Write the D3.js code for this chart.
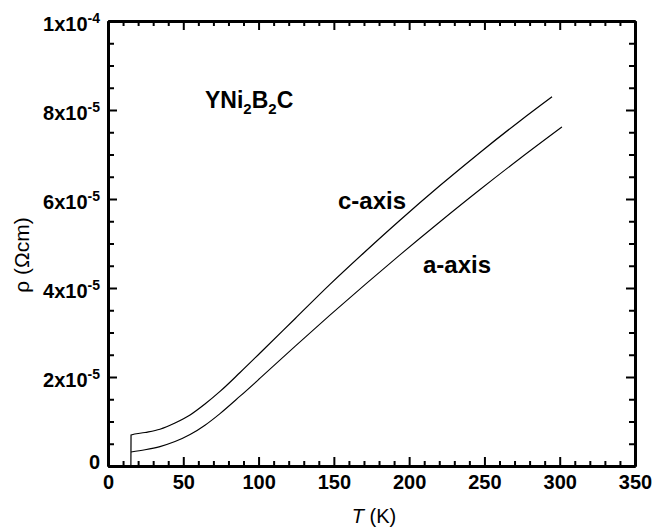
<!DOCTYPE html>
<html>
<head>
<meta charset="utf-8">
<script src="https://cdn.jsdelivr.net/npm/d3@7"></script>
<style>
  html, body { margin: 0; padding: 0; background: #fff; }
  svg { display: block; font-family: "Liberation Sans", Arial, Helvetica, sans-serif; }
</style>
</head>
<body>
<svg id="chart" width="653" height="531"></svg>
<script>
// Resistivity of YNi2B2C single crystal vs temperature (values in µΩcm)
const cAxisT   = [15.2, 15.3, 24.6, 34.5, 44.5, 54.5, 64.4, 74.4, 87.7, 101, 124.2, 147.4, 170.7, 193.9, 220.5, 247.1, 273.6, 294.9];
const cAxisRho = [0, 6.97, 7.53, 8.27, 9.66, 11.46, 13.93, 16.76, 21.01, 25.39, 33.10, 40.81, 48.15, 55.23, 63.02, 70.47, 77.55, 82.98];

const aAxisT   = [15.3, 24.6, 34.5, 44.5, 54.5, 64.4, 74.4, 87.7, 101, 124.2, 147.4, 170.7, 193.9, 220.5, 247.1, 273.6, 301.5];
const aAxisRho = [3.15, 3.64, 4.36, 5.48, 7.06, 9.17, 11.78, 15.69, 19.73, 26.90, 33.89, 40.76, 47.44, 54.89, 62.13, 69.10, 76.19];

const xMajorTicks = [0, 50, 100, 150, 200, 250, 300, 350];
const xMinorTicks = d3.range(0, 351, 10).filter(v => v % 50 !== 0);
const yMajorTicks = [0, 2e-5, 4e-5, 6e-5, 8e-5, 1e-4];
const yMinorTicks = d3.range(0, 21).map(i => i * 5e-6).filter((v, i) => i % 4 !== 0);
const yTickMantissa = ["0", "2", "4", "6", "8", "1"];
const yTickExponent = [null, "-5", "-5", "-5", "-5", "-4"];

const W = 653, H = 531;
const margin = { top: 21, right: 18, bottom: 65, left: 108 };

const svg = d3.select("#chart");
const x = d3.scaleLinear().domain([0, 350]).range([margin.left, W - margin.right]);
const y = d3.scaleLinear().domain([0, 1e-4]).range([H - margin.bottom, margin.top]);

const toPoints = (T, rho) => T.map((t, i) => [t, rho[i] * 1e-6]);
const line = d3.line().x(d => x(d[0])).y(d => y(d[1])).curve(d3.curveMonotoneX);

// curves
svg.append("path").datum(toPoints(cAxisT, cAxisRho))
  .attr("d", line).attr("fill", "none").attr("stroke", "#000").attr("stroke-width", 1.2);
svg.append("path").datum(toPoints(aAxisT, aAxisRho))
  .attr("d", line).attr("fill", "none").attr("stroke", "#000").attr("stroke-width", 1.1);

function styleAxis(g, width) {
  g.select(".domain").attr("stroke", "#000").attr("stroke-width", width);
  g.selectAll(".tick line").attr("stroke", "#000").attr("stroke-width", 2);
}

const x0 = y(0), y0 = x(0);
// bottom axis: major + minor, ticks pointing inward
const gxMinor = svg.append("g").attr("transform", `translate(0,${x0})`)
  .call(d3.axisBottom(x).tickValues(xMinorTicks).tickSize(-5).tickSizeOuter(0).tickFormat(""));
styleAxis(gxMinor, 3);
const gx = svg.append("g").attr("transform", `translate(0,${x0})`)
  .call(d3.axisBottom(x).tickValues(xMajorTicks).tickSize(-9).tickSizeOuter(0).tickPadding(9).tickFormat(d3.format("d")));
styleAxis(gx, 3);
gx.selectAll(".tick text").attr("fill", "#000").attr("font-size", 20).attr("font-weight", "bold");

// top axis
const gtMinor = svg.append("g").attr("transform", `translate(0,${margin.top})`)
  .call(d3.axisTop(x).tickValues(xMinorTicks).tickSize(-5).tickSizeOuter(0).tickFormat(""));
styleAxis(gtMinor, 3);
const gt = svg.append("g").attr("transform", `translate(0,${margin.top})`)
  .call(d3.axisTop(x).tickValues(xMajorTicks).tickSize(-9).tickSizeOuter(0).tickFormat(""));
styleAxis(gt, 3);

// left axis
const gyMinor = svg.append("g").attr("transform", `translate(${y0},0)`)
  .call(d3.axisLeft(y).tickValues(yMinorTicks).tickSize(-6).tickSizeOuter(0).tickFormat(""));
styleAxis(gyMinor, 3);
const gy = svg.append("g").attr("transform", `translate(${y0},0)`)
  .call(d3.axisLeft(y).tickValues(yMajorTicks).tickSize(-9).tickSizeOuter(0).tickPadding(8).tickFormat(""));
styleAxis(gy, 3);
gy.selectAll(".tick text").each(function(d, i) {
  const t = d3.select(this).attr("fill", "#000").attr("font-size", 20).attr("font-weight", "bold")
    .attr("dy", d === 0 ? "0.14em" : "0.45em");
  t.text(null);
  if (yTickExponent[i] === null) {
    t.append("tspan").text(yTickMantissa[i]);
  } else {
    t.append("tspan").text(yTickMantissa[i] + "x10");
    t.append("tspan").attr("font-size", 14).attr("dy", -8).text(yTickExponent[i]);
  }
});

// right axis
const grMinor = svg.append("g").attr("transform", `translate(${W - margin.right},0)`)
  .call(d3.axisRight(y).tickValues(yMinorTicks).tickSize(-6).tickSizeOuter(0).tickFormat(""));
styleAxis(grMinor, 3);
const gr = svg.append("g").attr("transform", `translate(${W - margin.right},0)`)
  .call(d3.axisRight(y).tickValues(yMajorTicks).tickSize(-9).tickSizeOuter(0).tickFormat(""));
styleAxis(gr, 3);

// axis titles
const xt = svg.append("text").attr("x", 374).attr("y", 523).attr("text-anchor", "middle")
  .attr("font-size", 20).attr("fill", "#000");
xt.append("tspan").attr("font-style", "italic").text("T");
xt.append("tspan").text(" (K)");

svg.append("text").attr("transform", "translate(29,255) rotate(-90)")
  .attr("text-anchor", "middle").attr("font-size", 21).attr("fill", "#000")
  .text("ρ (Ωcm)");

// annotations
const comp = svg.append("text").attr("x", 205).attr("y", 108)
  .attr("font-size", 23).attr("font-weight", "bold").attr("fill", "#000");
comp.append("tspan").text("YNi");
comp.append("tspan").attr("font-size", 15).attr("dy", 6).text("2");
comp.append("tspan").attr("dy", -6).text("B");
comp.append("tspan").attr("font-size", 15).attr("dy", 6).text("2");
comp.append("tspan").attr("dy", -6).text("C");

svg.append("text").attr("x", 338).attr("y", 209)
  .attr("font-size", 24).attr("font-weight", "bold").attr("fill", "#000").text("c-axis");
svg.append("text").attr("x", 423).attr("y", 273)
  .attr("font-size", 24).attr("font-weight", "bold").attr("fill", "#000").text("a-axis");
</script>
</body>
</html>
